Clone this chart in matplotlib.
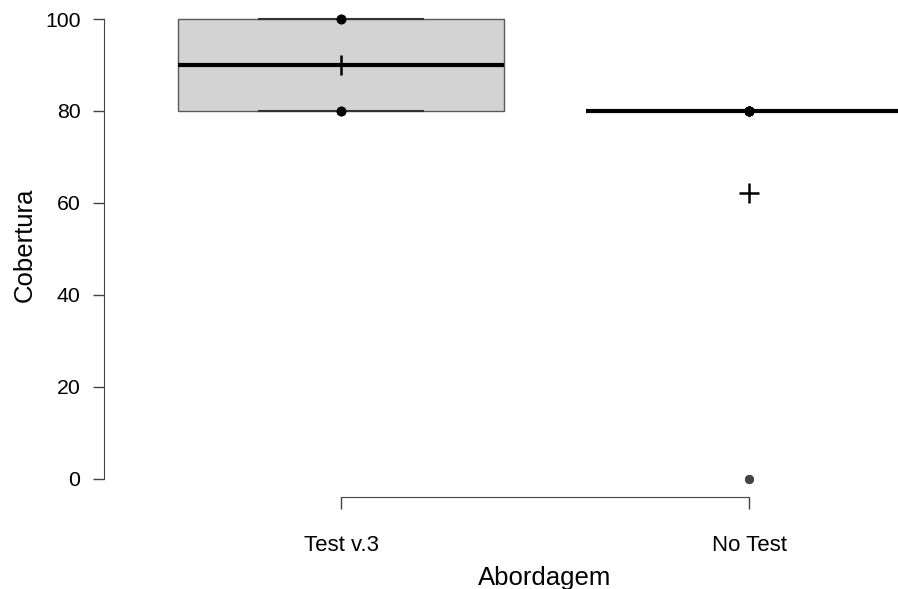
import matplotlib
matplotlib.use("Agg")
import matplotlib.pyplot as plt
import numpy as np

plt.rcParams['font.family'] = ['Liberation Sans', 'DejaVu Sans']

categories = ["Test v.3", "No Test"]
test_v3 = [80, 80, 100, 100]
no_test = [0, 0, 80, 80, 80, 80, 80, 80, 80]
series = [test_v3, no_test]
yticks = [0, 20, 40, 60, 80, 100]

W, H = 898, 589
fig = plt.figure(figsize=(W / 100, H / 100), dpi=100)

# axes placement in pixels
left_px, right_px, top_px, bottom_px = 104, 898, 0, 500
ax = fig.add_axes([left_px / W, 1 - bottom_px / H, (right_px - left_px) / W, (bottom_px - top_px) / H])

# scale: y=0 at px 479, y=100 at px 19 ; x=1 at px 341, x=2 at px 749
ppy = (479 - 19) / 100.0
ppx = (749 - 341) / 1.0
ax.set_ylim((479 - bottom_px) / ppy, (479 - top_px) / ppy)
ax.set_xlim(1 + (left_px - 341) / ppx, 1 + (right_px - 341) / ppx)

pos = np.arange(1, len(categories) + 1)
bp = ax.boxplot(series, positions=pos, widths=0.8, patch_artist=True,
                whis=1.5, showmeans=True, manage_ticks=False,
                boxprops=dict(facecolor='#D3D3D3', edgecolor='#5a5a5a', linewidth=1.0),
                medianprops=dict(color='black', linewidth=3.0, solid_capstyle='butt'),
                whiskerprops=dict(color='#333333', linewidth=1.0),
                capprops=dict(color='#333333', linewidth=1.5),
                capwidths=0.4,
                meanprops=dict(marker='+', markeredgecolor='black', markersize=15,
                               markeredgewidth=1.8, linestyle='none'),
                flierprops=dict(marker='o', markerfacecolor='#454545', markeredgecolor='#454545',
                                markersize=5.5))

# data points (non-outliers) at the centre
for p, vals in zip(pos, series):
    v = np.array(vals, dtype=float)
    q1, q3 = np.percentile(v, [25, 75])
    iqr = q3 - q1
    inl = v[(v >= q1 - 1.5 * iqr) & (v <= q3 + 1.5 * iqr)]
    ax.plot(np.full(len(inl), p), inl, 'o', color='black', markersize=6,
            clip_on=False, zorder=5)

for art in bp['means'] + bp['fliers']:
    art.set_clip_on(False)
    art.set_zorder(6)

# spines
for s in ['top', 'right']:
    ax.spines[s].set_visible(False)
ax.spines['left'].set_bounds(0, 100)
ax.spines['left'].set_color('#444444')
ax.spines['bottom'].set_position(('data', (479 - 497) / ppy))
ax.spines['bottom'].set_bounds(1, 2)
ax.spines['bottom'].set_color('#444444')

ax.set_yticks(yticks)
ax.set_yticklabels([str(t) for t in yticks])
ax.set_xticks(pos)
ax.set_xticklabels(categories)
ax.tick_params(axis='y', direction='out', length=8, width=1, color='#444444',
               labelsize=15.3, pad=9)
ax.tick_params(axis='x', direction='out', length=8.5, width=1, color='#444444',
               labelsize=16, pad=19)
ax.patch.set_alpha(0)

fig.text(545 / W, 1 - 585 / H, "Abordagem", ha='center', va='baseline', fontsize=18.5)
fig.text(25 / W, 1 - 245 / H, "Cobertura", ha='center', va='center', rotation=90, fontsize=18.5)

fig.savefig("out.png", dpi=100)
